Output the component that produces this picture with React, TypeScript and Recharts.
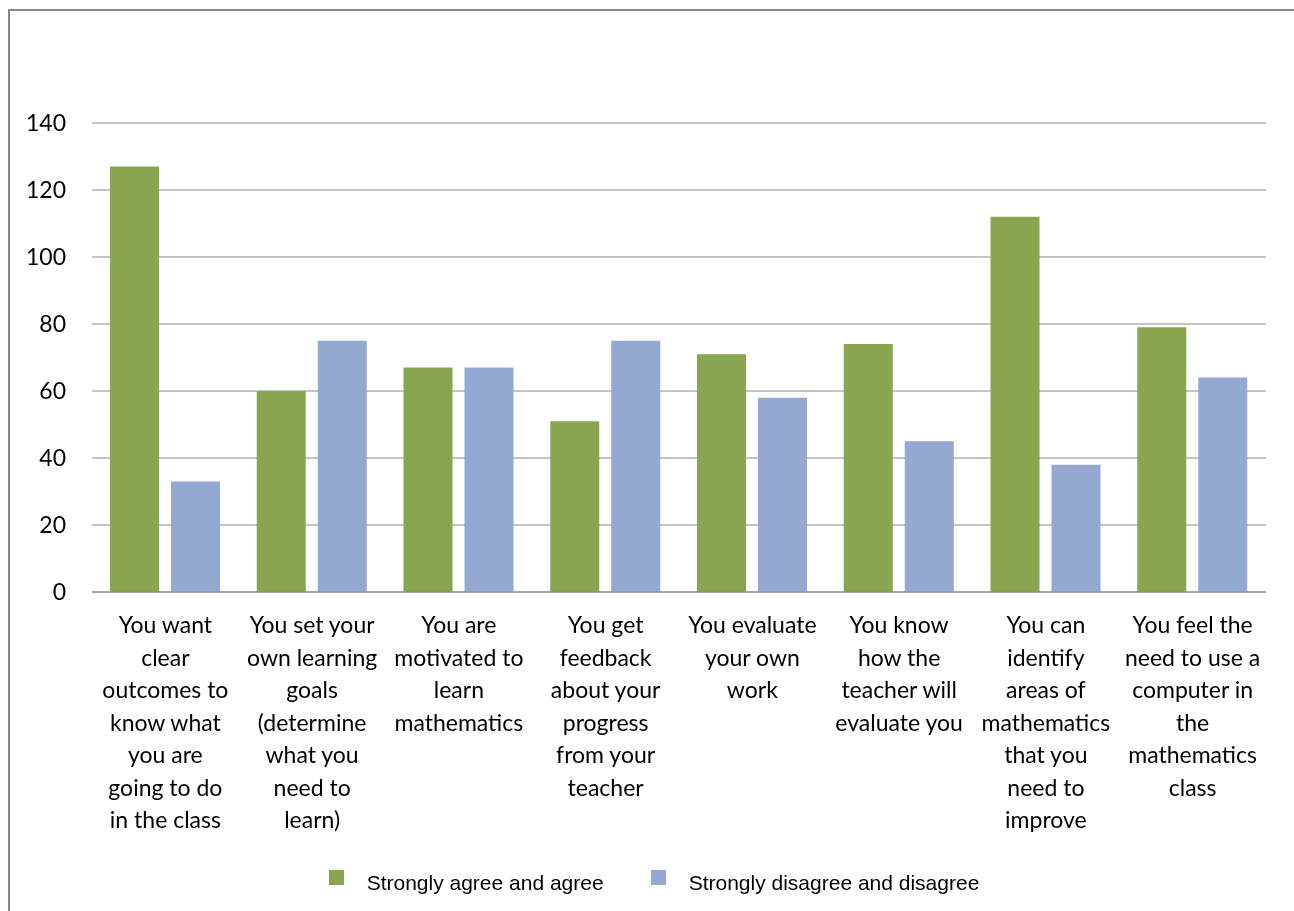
import { BarChart, Bar, XAxis, YAxis, CartesianGrid, Legend } from "recharts";

const categories = ["c1", "c2", "c3", "c4", "c5", "c6", "c7", "c8"];

const categoryLines = [
    ["You want", "clear", "outcomes to", "know what", "you are", "going to do", "in the class"],
    ["You set your", "own learning", "goals", "(determine", "what you", "need to", "learn)"],
    ["You are", "motivated to", "learn", "mathematics"],
    ["You get", "feedback", "about your", "progress", "from your", "teacher"],
    ["You evaluate", "your own", "work"],
    ["You know", "how the", "teacher will", "evaluate you"],
    ["You can", "identify", "areas of", "mathematics", "that you", "need to", "improve"],
    ["You feel the", "need to use a", "computer in", "the", "mathematics", "class"],
];

const agree = [127, 60, 67, 51, 71, 74, 112, 79];
const disagree = [33, 75, 67, 75, 58, 45, 38, 64];

const yTicks = [0, 20, 40, 60, 80, 100, 120, 140];

const seriesNames = ["Strongly agree and agree", "Strongly disagree and disagree"];
const GREEN = "#8AA54F";
const BLUE = "#94A9D1";

const data = categories.map((c, i) => ({
    cat: c,
    agree: agree[i],
    disagree: disagree[i],
}));

function CategoryTick(props: any) {
    const { x, y, index } = props;
    const lines = categoryLines[index] || [];
    return (
        <text x={x} y={y} textAnchor="middle" fill="#000" fontFamily="Lato" fontSize={23}>
            {lines.map((l, i) => (
                <tspan key={i} x={x} y={y + 33 + i * 32.5}>
                    {l}
                </tspan>
            ))}
        </text>
    );
}

function LegendBox() {
    const colors = [GREEN, BLUE];
    return (
        <div
            style={{
                display: "flex",
                justifyContent: "center",
                alignItems: "flex-start",
                fontFamily: "'Liberation Sans', Arial, sans-serif",
                fontSize: 21,
                lineHeight: "24px",
                color: "#000",
            }}
        >
            {seriesNames.map((name, i) => (
                <div key={name} style={{ display: "flex", alignItems: "flex-start", marginLeft: i ? 47 : 0 }}>
                    <div style={{ width: 15, height: 15, background: colors[i], marginTop: -1, marginRight: 23 }} />
                    <span>{name}</span>
                </div>
            ))}
        </div>
    );
}

export default function App() {
    return (
        <div style={{ position: "relative", width: 1278, height: 895 }}>
            <style>{"body{overflow:hidden}"}</style>
            {/* frame: only left and top edges show in the picture */}
            <div
                style={{
                    position: "fixed",
                    left: 8,
                    top: 9,
                    right: -20,
                    bottom: -20,
                    borderLeft: "2px solid #878787",
                    borderTop: "2px solid #878787",
                    pointerEvents: "none",
                }}
            />
            <BarChart
                width={1278}
                height={895}
                data={data}
                margin={{ top: 115, right: 20, bottom: 51, left: 0 }}
                barCategoryGap={18}
                barGap={12}
            >
                <CartesianGrid vertical={false} stroke="#8a8a8a" />
                <XAxis
                    dataKey="cat"
                    height={260}
                    interval={0}
                    tickLine={false}
                    axisLine={{ stroke: "#8a8a8a" }}
                    tick={<CategoryTick />}
                />
                <YAxis
                    width={84}
                    domain={[0, 140]}
                    ticks={yTicks}
                    axisLine={false}
                    tickLine={false}
                    tickMargin={20}
                    tick={{ fill: "#000", fontFamily: "Lato", fontSize: 23 }}
                />
                <Legend
                    verticalAlign="middle"
                    align="center"
                    wrapperStyle={{ top: 863, left: 7, width: 1278 }}
                    content={<LegendBox />}
                />
                <Bar dataKey="agree" name={seriesNames[0]} fill={GREEN} isAnimationActive={false} />
                <Bar dataKey="disagree" name={seriesNames[1]} fill={BLUE} isAnimationActive={false} />
            </BarChart>
        </div>
    );
}
